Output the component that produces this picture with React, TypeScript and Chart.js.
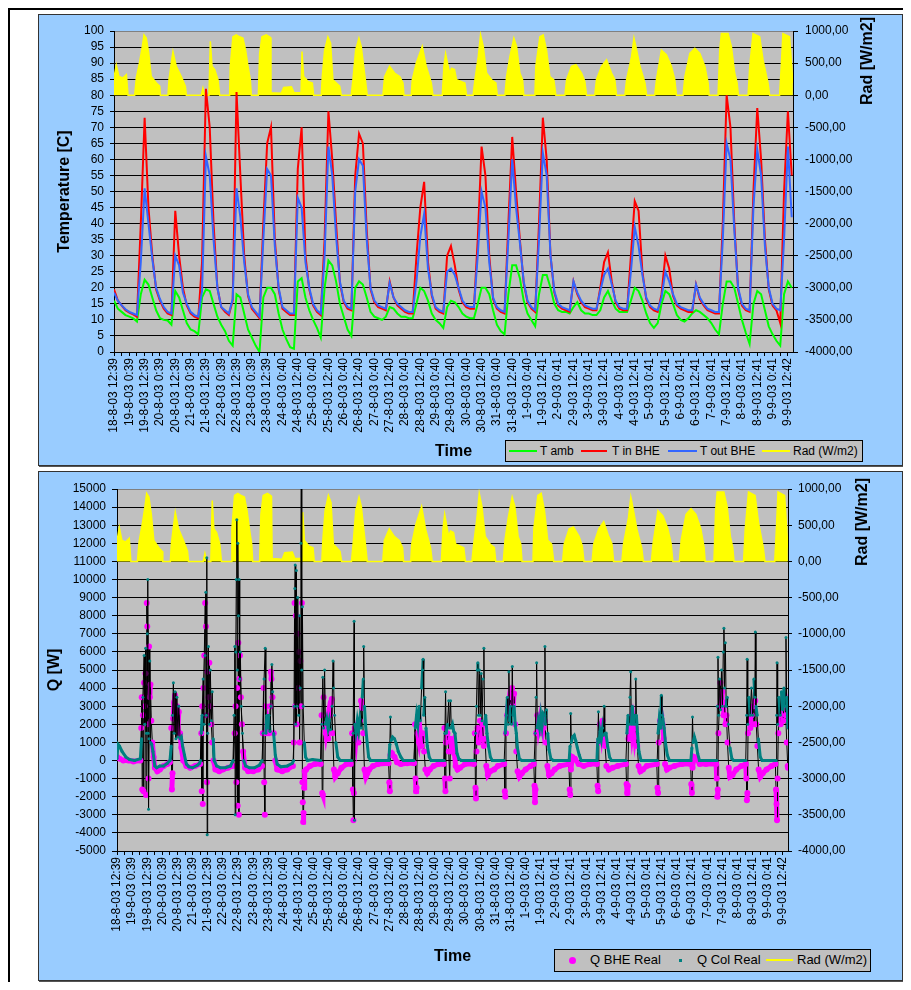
import React, { useEffect, useRef } from 'react';
import { Chart, registerables } from 'chart.js';

Chart.register(...registerables);

const FONT = "'Liberation Sans', Arial, Helvetica, sans-serif";

// x-axis category labels (one every 12 hours)
const xLabels = [
  '18-8-03 12:39', '19-8-03 0:39', '19-8-03 12:39', '20-8-03 0:39', '20-8-03 12:39',
  '21-8-03 0:39', '21-8-03 12:39', '22-8-03 0:39', '22-8-03 12:39', '23-8-03 0:39',
  '23-8-03 12:39', '24-8-03 0:40', '24-8-03 12:40', '25-8-03 0:40', '25-8-03 12:40',
  '26-8-03 0:40', '26-8-03 12:40', '27-8-03 0:40', '27-8-03 12:40', '28-8-03 0:40',
  '28-8-03 12:40', '29-8-03 0:40', '29-8-03 12:40', '30-8-03 0:40', '30-8-03 12:40',
  '31-8-03 0:40', '31-8-03 12:40', '1-9-03 0:40', '1-9-03 12:41', '2-9-03 0:41',
  '2-9-03 12:41', '3-9-03 0:41', '3-9-03 12:41', '4-9-03 0:41', '4-9-03 12:41',
  '5-9-03 0:41', '5-9-03 12:41', '6-9-03 0:41', '6-9-03 12:41', '7-9-03 0:41',
  '7-9-03 12:41', '8-9-03 0:41', '8-9-03 12:41', '9-9-03 0:41', '9-9-03 12:42',
];

const SAMPLE_STEP_H = 3; // temperature samples every 3 hours from 18-8 12:39
const X_MAX = 532;

// T amb [C]
const tAmb = [
  16, 13.5, 12.5, 11.5,
  11, 10.5, 9.5, 18, 22.5, 21, 17, 13,
  10.5, 10, 9.8, 8.5, 19, 17, 13, 9,
  7, 6.5, 5.5, 17, 19.5, 19, 15, 11,
  8.5, 6.5, 3.5, 2, 18, 17, 12, 7,
  4.5, 2, 0, 17, 20, 20, 18, 12,
  7, 4, 1.5, 1, 22, 23, 17, 13,
  10, 7.5, 4.5, 20, 28.5, 27, 22, 15,
  11, 7, 5, 20, 22, 21, 17, 12.5,
  11, 10.5, 10, 11, 14, 13.5, 12, 11,
  11, 10.5, 10.5, 15, 20, 19, 16, 12,
  10, 9, 7.5, 14, 16, 15.5, 14, 12,
  11, 10.5, 10.5, 15, 20, 20, 18, 13,
  8.5, 6.5, 5.5, 18, 27, 27, 23, 16,
  12, 10, 8, 18, 24, 24, 20, 15,
  13, 12.5, 12.5, 12, 14, 15.5, 13, 12,
  12, 11.5, 11.5, 13, 17, 19, 16, 13.5,
  12.5, 12.5, 12.5, 16, 20, 19, 16, 12,
  9, 7.5, 9, 15, 19, 18, 15, 11.5,
  10, 9.5, 10.5, 12, 13, 12.5, 11.5, 10.5,
  9, 7, 5.5, 15, 22, 22, 20, 15,
  10, 6, 2.5, 15, 19, 18, 13, 8,
  5.5, 3.5, 2, 18, 22, 20,
];

// T in BHE [C]
const tInBHE = [
  19.5, 16, 14.5, 13,
  12.3, 11.7, 11, 40, 73, 45, 30, 19.5,
  16, 13.5, 12, 11.5, 44, 30, 20, 14.5,
  12, 11, 10.5, 28, 82, 70, 40, 20,
  14, 12.5, 11.5, 16, 81, 55, 30, 17.5,
  13.5, 12, 10.5, 40, 65, 70, 35, 19.5,
  13.5, 12.5, 11.5, 11.5, 57, 70, 30, 19.5,
  14.5, 12.5, 11.5, 35, 75, 60, 40, 21.5,
  15.5, 13.5, 13, 55, 68, 65, 38, 19.5,
  15.5, 14, 13.5, 13, 22, 17, 14.5, 13.5,
  12.5, 12, 12, 30, 45, 53, 28, 17.5,
  13.5, 12.5, 12, 30, 33, 27, 19.5, 15.5,
  14, 13.5, 13.5, 35, 64, 55, 30, 16.5,
  13.5, 12.5, 12, 40, 67, 50, 35, 21.5,
  15.5, 13.5, 12.5, 40, 73, 60, 30, 18.5,
  14.5, 13.5, 13, 12.5, 22, 18, 15.5, 14,
  13.5, 13, 13, 20, 28, 31, 22, 15.5,
  13.5, 13, 13, 30, 47, 44, 25, 16.5,
  14, 13, 12.5, 18, 30, 26, 17.5, 14.5,
  13.5, 13, 12.5, 12.5, 21, 16.5, 14.5, 13,
  12.5, 12, 12, 40, 80, 70, 40, 19.5,
  14.5, 13, 12.5, 50, 76, 60, 35, 19.5,
  14.5, 13, 9, 50, 75, 55,
];

// T out BHE [C]
const tOutBHE = [
  18.5, 16, 14.5, 13.3,
  12.5, 12, 11.5, 28, 51, 40, 29, 20,
  16.5, 14, 12.5, 12, 30, 27, 18.5, 15,
  12.5, 11.5, 11, 19, 61, 55, 35, 20,
  14, 13, 12, 16.5, 51, 42, 28, 18,
  14, 12.5, 11, 35, 57, 55, 33, 20,
  14, 13, 12, 12, 48, 45, 28, 20,
  15, 13, 12, 30, 64, 55, 36, 22,
  16, 14, 13.5, 50, 60, 58, 35, 20,
  16, 14.5, 14, 13.5, 21.5, 17, 15, 14,
  13, 12.5, 12.5, 22, 36, 43, 26, 18,
  14, 13, 12.5, 25, 26, 24, 20, 16,
  14.5, 14, 14, 30, 50, 45, 28, 17,
  14, 13, 12.5, 35, 60, 45, 34, 22,
  16, 14, 13, 35, 62, 55, 30, 19,
  15, 14, 13.5, 13, 22, 18.5, 16, 14.5,
  14, 13.5, 13.5, 19, 24, 26, 21, 16,
  14, 13.5, 13.5, 25, 39, 33, 24, 17,
  14.5, 13.5, 13, 17, 25, 22, 18, 15,
  14, 13.5, 13, 13, 21, 17, 15, 13.5,
  13, 12.5, 12.5, 35, 65, 60, 38, 20,
  15, 13.5, 13, 45, 63, 55, 33, 20,
  15, 13.5, 13, 35, 64, 42,
];

// Rad (W/m2): [hours since 18-8 12:39, value]
const radSeries = [
  [0, 280], [1.8, 470], [3.9, 290], [7, 270], [9.7, 320], [11, 0], [16.2, 0],
  [17.5, 270], [20.1, 520], [22.2, 760], [23.5, 940], [25.3, 890], [27.2, 650], [29.2, 290], [33.2, 190], [35.8, 140], [36.3, 0], [42.3, 0],
  [43.1, 240], [44.9, 500], [46.2, 680], [48.8, 450], [52.7, 290], [55.9, 140], [56.7, 0], [68.4, 0], [69.7, 110], [71, 0], [74.4, 0],
  [75.5, 840], [76.8, 450], [78.9, 400], [81.5, 240], [82.8, 0], [90.6, 0],
  [91.1, 450], [93.2, 910], [95.8, 940], [98.4, 910], [101, 890], [103.1, 700], [105, 450], [106.8, 240], [107.6, 0], [113.1, 0],
  [114.1, 650], [115.9, 910], [119.3, 940], [121.9, 910], [122.5, 900], [123, 40], [131, 30], [133, 120], [139, 130], [141, 40], [146.6, 40],
  [147.3, 680], [148.6, 290], [152, 215], [155.4, 190], [156.4, 0], [162.4, 0],
  [163.2, 290], [165, 700], [167.6, 910], [169.7, 810], [171.5, 240], [174.2, 190], [176.8, 140], [178.1, 0], [185.9, 0],
  [187.2, 240], [189.3, 700], [191.9, 890], [193.7, 760], [195.6, 450], [197.1, 215], [198.4, 0], [210.7, 0],
  [212, 290], [215.9, 450], [219.8, 345], [223.8, 290], [226.4, 190], [227.2, 0], [232.9, 0],
  [233.7, 240], [236.8, 500], [241.5, 760], [244.6, 450], [248.6, 190], [249.9, 0], [257.2, 0],
  [258.5, 450], [259.8, 650], [262.9, 345], [264.5, 420], [266.8, 400], [268.4, 240], [274.9, 190], [276.2, 0], [281.4, 0],
  [282.8, 240], [285.4, 600], [287.2, 940], [289.3, 760], [291.9, 345], [295.8, 240], [299.2, 190], [300.3, 0], [306.3, 0],
  [307.6, 290], [310.2, 600], [313.3, 890], [315.4, 760], [318, 345], [320.1, 240], [321.1, 0], [329.8, 0],
  [330.5, 450], [333.7, 910], [336.3, 940], [338.9, 700], [341.5, 290], [344.6, 240], [346.2, 0], [353.3, 0],
  [354.6, 240], [358.5, 450], [361.9, 475], [366.3, 345], [368.9, 215], [370.2, 0], [376.7, 0],
  [378, 240], [382, 450], [385.9, 550], [389.8, 345], [392.4, 240], [393.7, 0], [400.3, 0],
  [401.6, 240], [405.5, 600], [407.4, 890], [409.5, 700], [412.1, 450], [416, 190], [417.3, 0], [423.7, 0],
  [425, 240], [428.9, 700], [432.8, 630], [436.7, 450], [439.4, 240], [440.7, 0], [445.9, 0],
  [447.3, 290], [451.2, 650], [455.1, 730], [459, 650], [462.9, 450], [465.5, 190], [466.3, 0], [473.3, 0],
  [474.6, 700], [475.9, 960], [481.1, 960], [483.7, 760], [486.3, 345], [488.2, 190], [489.2, 0], [496.8, 0],
  [498.1, 450], [500.7, 960], [505.9, 910], [508.5, 550], [512.4, 190], [513.7, 0], [521.5, 0],
  [522.8, 450], [524.1, 960], [529.3, 910], [531.9, 190],
];

// Q BHE Real [W]: [hours, value]
const qBheSeries = [
  [0, 200], [2, 100], [5, 0], [9, 0], [13, -50], [18.5, 0],
  [19.2, 1800], [19.6, 3500], [20, -1600], [20.6, 2500], [21, -1700], [21.4, 4300], [22, 3000], [22.5, 4800], [23, -1900], [23.6, 8700], [24, 7400], [24.5, 2000], [25, -1000], [25.4, 6300], [26, 3500], [26.5, 4200], [27.2, 2200], [28, 1000], [29, 200], [30, -400], [32, -600], [34, -500], [37, -300], [40, -200], [42, -100],
  [43, 1800], [43.5, -1600], [44, -700], [44.5, 2300], [45.2, 3200], [46, 3600], [46.7, 2500], [47.5, 3000], [48.3, 1800], [49, 2700], [50, 1500], [51, 700], [52.5, 0], [55, -300], [58, -400], [62, -300], [66, -200],
  [66.8, 1500], [67.2, -1700], [67.6, 3000], [68, -2400], [68.5, 4000], [69.2, 5800], [69.9, 8700], [70.5, 7400], [71, 2500], [71.3, -1200], [71.8, 4900], [72.5, 3500], [73.2, 5400], [74, 3000], [74.8, 2000], [75.5, 1000], [76.5, 0], [78, -500], [81, -600], [84, -500], [88, -400], [92, -300],
  [93.3, 1500], [94, 3000], [94.6, -1200], [95.2, 4000], [95.7, -2500], [96.2, 6500], [96.6, -3000], [97, 4500], [97.5, 5800], [98.2, 3500], [99, 2000], [100, 500], [101.5, -400], [104, -600], [108, -600], [112, -500], [115, -300],
  [115.6, 1500], [116.2, 4000], [116.7, -1200], [117.2, -3000], [117.8, 3000], [118.5, 1500], [119.5, 2000], [120.5, 1500], [121.5, 3000], [122, 4900], [122.5, 4500], [123.3, 3500], [124.3, 1500], [125.5, 0], [127, -500], [131, -600], [135, -500], [139.5, -300],
  [140.2, 1000], [140.8, 8700], [141.3, 3000], [141.8, 8000], [142.4, 2000], [143, 7000], [143.6, 4000], [144.2, 6000], [144.8, 1000], [145.4, 5500], [146, 3000], [146.6, 8700], [147, -1200], [147.3, -2300], [147.6, -3400], [147.9, -2900], [148.3, -1500], [148.8, -600], [150, -500], [153, -300], [157, -200], [161.5, -200],
  [162.2, 2500], [162.7, -1800], [163.2, -1900], [163.8, 3500], [164.5, 2000], [165.5, 1500], [166.5, 2000], [167.5, 1200], [168.5, 2500], [169.5, 3200], [170.3, 3400], [171, 1500], [172, -500], [173, -900], [175, -700], [178, -400], [182, -200], [185.5, -200],
  [186.4, 1500], [187, -1600], [187.4, -3300], [187.8, -1800], [188.5, 1800], [189.5, 1200], [190.5, 2000], [191.5, 1000], [192.5, 2200], [193.5, 3300], [194.3, 2900], [195.2, 1500], [196.2, -500], [197.3, -900], [198.5, -700], [200, -500], [203, -300], [207, -200], [215.3, -150],
  [215.9, -1200], [216.3, -1700], [216.8, 300], [218, 400], [220, 200], [222, -100], [225, -200], [230, -150], [235.5, -150],
  [236.3, 2000], [236.7, -1000], [237.1, -1700], [237.5, -1500], [238.2, 1500], [239.5, 1000], [240.5, 1500], [241.5, 800], [242.5, 1500], [243.5, 500], [244.5, -500], [246, -700], [248, -500], [251, -300], [255, -200], [259, -200],
  [259.6, 1800], [260, -1000], [260.4, -1700], [260.8, 1000], [262, 1500], [263, 500], [263.8, -1000], [264.5, 1200], [265.5, 800], [266.5, 1000], [267.5, 400], [268.5, -300], [270, -500], [272, -400], [276, -200], [283, -200],
  [283.7, 1500], [284.2, -1500], [284.6, -2100], [285, 500], [285.8, 1800], [286.8, 1000], [287.8, 2200], [288.8, 1200], [289.8, 2000], [290.8, 800], [291.8, 1200], [292.8, -300], [294, -800], [296, -600], [299, -500], [302, -300], [307, -200],
  [307.5, -1700], [307.9, -2000], [308.4, 1500], [309.3, 2500], [310.2, 3000], [311.2, 2500], [312.2, 3500], [313.2, 4000], [314, 3000], [314.8, 3700], [315.7, 2000], [316.6, 500], [317.6, -600], [319, -900], [321, -700], [324, -500], [328, -300], [330.5, -200],
  [331, -1400], [331.4, -2300], [331.8, -1600], [332.3, 1500], [333.2, 2500], [334.2, 1800], [335.2, 2200], [336.2, 1500], [337.2, 2500], [338.2, 1800], [339.2, 2200], [340.2, 1000], [341.2, -300], [342.5, -800], [344.5, -700], [347, -500], [351, -300], [358.3, -200],
  [358.9, -1600], [359.4, -1900], [359.9, -500], [361, 200], [363, 100], [366, -200], [370, -300], [375, -200], [380.5, -200],
  [381, -1400], [381.5, -1700], [382, 1000], [383, 2000], [384, 1500], [385, 2200], [386, 1200], [387, 800], [388, -300], [390, -500], [393, -400], [397, -300], [403.5, -200],
  [404, -1300], [404.5, -1800], [405, -1400], [405.5, 1200], [406.5, 2000], [407.5, 2300], [408.5, 1500], [409.5, 2000], [410.5, 1300], [411.5, 1800], [412.5, 800], [413.5, -300], [415, -600], [417, -500], [420, -300], [428, -200],
  [428.5, -1500], [429, -1800], [429.5, 1000], [430.5, 2200], [431.5, 2500], [432.5, 2000], [433.5, 1200], [434.5, -200], [436, -500], [438, -400], [442, -300], [448, -200], [454.8, -200],
  [455.3, -1300], [455.8, -1800], [456.3, -400], [457.5, 200], [459.5, 100], [462, -200], [467, -200], [475, -200],
  [475.5, -1000], [475.9, -2000], [476.3, -1600], [476.8, 1500], [477.6, 3000], [478.4, 4300], [479.2, 3000], [480, 3800], [480.8, 2500], [481.6, 3200], [482.4, 2000], [483.2, 2500], [484, 1000], [485, -400], [486, -900], [488, -800], [491, -500], [495, -300], [498.5, -200],
  [499, -1000], [499.4, -2200], [499.8, -1800], [500.3, 1500], [501.2, 2500], [502.2, 1800], [503.2, 2500], [504.2, 3000], [505.2, 2000], [506, 3300], [506.8, 2000], [507.7, 800], [508.7, -500], [510, -900], [512, -700], [515, -500], [519, -300], [522, -200],
  [522.5, -1600], [522.9, -2400], [523.3, -3300], [523.7, -1000], [524.3, 1500], [525.2, 2500], [526.2, 2000], [527.2, 3000], [528.2, 2200], [529.2, 3600], [530.2, 2500], [531, 1000], [531.8, -300], [532, -400],
];

// Q Col Real [W]: [hours, value]
const qColSeries = [
  [0, 100], [0.8, 900], [2, 800], [4, 500], [7, 200], [10, 50], [14, 0], [18.5, 100],
  [19.5, 1200], [20.5, 3500], [21.5, 5800], [22, 2000], [22.7, 6200], [23.3, 1500], [24, 7000], [24.4, 10000], [24.7, 1500], [25, -2700], [25.4, 1200], [26, 5500], [26.6, 1000], [27.5, 900], [28.5, 500], [30, -300], [31.5, -400], [34, -300], [37, -300], [40, -150], [42, 0],
  [43, 800], [44, 2500], [44.7, 4300], [45.3, 1500], [46, 3800], [46.7, 1200], [47.5, 3500], [48.3, 1300], [49, 3000], [50, 1200], [51, 1300], [52, 800], [53.5, 300], [55, -200], [57, -350], [60, -400], [64, -250], [65.5, -150], [66.2, 0],
  [66.8, 1500], [67.5, 2500], [68.3, 4500], [69, 2000], [69.7, 5800], [70.4, 9300], [70.8, 2500], [71.2, 11200], [71.5, -4100], [71.9, 1500], [72.5, 6300], [73.2, 2000], [74, 5000], [74.8, 2200], [75.5, 3800], [76.3, 1200], [77, 0], [79, -300], [82, -400], [86, -400], [90, -300], [92, 0],
  [92.8, 2500], [93.4, 6300], [93.7, -3000], [94.2, 6000], [94.6, 10000], [95, 13300], [95.4, 5000], [95.8, 12000], [96.3, 8000], [96.8, 10000], [97.3, 4500], [97.8, 6000], [98.5, 3000], [99.5, 1500], [100.5, 0], [102, -300], [105, -400], [109, -400], [113, -250], [115, 0],
  [115.8, 1500], [116.6, 4500], [117.5, 6200], [118, 1500], [118.8, 2500], [119.6, 1800], [120.5, 2500], [121.3, 1600], [122, 3000], [122.8, 5300], [123.4, 3800], [124.2, 1500], [125.5, 300], [127, -200], [130, -350], [135, -300], [139, -150], [140, 0],
  [140.5, 3000], [141, 9500], [141.3, 10800], [141.7, 2000], [142.2, 10500], [142.8, 3000], [143.3, 9000], [144, 2500], [144.7, 8000], [145.3, 4000], [145.8, 12000], [146.1, 15100], [146.5, 5000], [147, 8500], [147.6, 3000], [148.5, 1000], [149.5, 200], [151, 0], [155, 50], [161.5, 0],
  [162.3, 2000], [163.2, 4600], [163.8, 1800], [164.6, 5000], [165.3, 2000], [166.3, 2300], [167.3, 1800], [168.3, 2200], [169.3, 1700], [170.5, 3000], [171.3, 5500], [171.8, 4000], [172.5, 2500], [173.5, 1000], [175, 200], [177, 0], [186, 0],
  [187.2, 1500], [188, 7700], [188.3, -3300], [188.7, 2000], [189.5, 1600], [190.5, 2200], [191.5, 1700], [192.5, 2300], [193.5, 1800], [194.5, 3500], [195.3, 4500], [195.6, 6300], [196.2, 3000], [197, 2000], [198.3, 1000], [199.5, 200], [201, 0], [215.5, 0],
  [216.3, 900], [216.8, 2400], [217.3, 1100], [218.5, 1300], [220, 1200], [221.5, 900], [223, 500], [225, 200], [227, 0], [235.5, 0],
  [236.5, 1800], [237.5, 2500], [238.5, 2000], [239.5, 3000], [240.5, 2200], [241.5, 4000], [242.3, 5000], [242.7, 5600], [243.2, 2500], [244, 3500], [245, 1800], [246, 800], [247.5, 200], [249, 0], [259.5, 0],
  [260, 1500], [260.5, 3800], [261, 1500], [262, 2000], [263, 3300], [263.5, 1800], [264.5, 3300], [265, 1800], [266, 2000], [267, 1600], [268, 1500], [269.5, 400], [271, 100], [273, 0], [283.5, 0],
  [284.3, 1500], [285, 3000], [285.6, 5000], [286.1, 5400], [286.6, 2500], [287.3, 5000], [288, 2500], [288.7, 4800], [289.4, 2200], [290.2, 4500], [290.9, 6200], [291.4, 2000], [292.3, 2500], [293.3, 1500], [294.5, 800], [296, 200], [297.5, 0], [307, 0],
  [307.8, 1500], [308.7, 2500], [309.5, 3500], [310.2, 2000], [310.7, 4900], [311.3, 2200], [312, 3000], [312.8, 2000], [313.4, 5200], [314, 2500], [314.8, 3000], [315.7, 2000], [316.6, 1500], [317.5, 700], [319, 100], [321, 0], [330.8, 0],
  [331.6, 1500], [332.3, 3500], [332.7, 5400], [333.2, 1800], [334, 2200], [335, 1800], [336, 2500], [337, 1900], [338, 2600], [339, 2500], [339.3, 6300], [339.7, 2000], [340.5, 2800], [341.5, 1500], [342.5, 600], [344, 100], [346, 0], [358.5, 0],
  [359.2, 800], [359.7, 2600], [360.2, 1000], [361.2, 1300], [362.5, 1400], [363.7, 1100], [365, 700], [366.5, 300], [368, 0], [380.5, 0],
  [381.2, 1200], [381.7, 2700], [382.2, 1000], [383, 1600], [384, 1200], [385, 1800], [385.7, 1400], [386.2, 3000], [386.7, 1500], [387.7, 1500], [389, 800], [390.5, 200], [392, 0], [403.5, 0],
  [404.3, 1500], [405.2, 2500], [406, 2000], [406.7, 3500], [407.3, 4900], [407.8, 2000], [408.6, 3000], [409.4, 2000], [410.2, 2500], [410.8, 2000], [411.3, 4500], [411.8, 2500], [412.7, 1500], [413.8, 500], [415.5, 0], [428.3, 0],
  [429, 1500], [429.8, 2200], [430.6, 1800], [431.2, 2500], [431.6, 3600], [432, 2000], [432.8, 2300], [433.8, 1800], [434.8, 1000], [436.3, 300], [438, 0], [455, 0],
  [455.8, 700], [456.3, 2400], [456.8, 1000], [457.8, 1300], [459, 1000], [460.3, 400], [461.8, 0], [475.5, 0],
  [476, 3000], [476.5, 5700], [477, 2500], [477.8, 4500], [478.5, 2800], [479.3, 5000], [480, 3000], [480.7, 6000], [481.2, 7300], [481.7, 4000], [482.3, 6500], [483, 3000], [483.8, 3500], [484.7, 2000], [486, 700], [487.5, 100], [489, 0], [498.5, 0],
  [499.2, 2500], [499.6, 5600], [500.1, 2000], [501, 3500], [502, 2500], [503, 4000], [504, 2500], [505, 4500], [505.7, 3500], [506.1, 7100], [506.6, 3000], [507.5, 2500], [508.5, 1200], [510, 200], [511.5, 0], [522.6, 0],
  [523, 2500], [523.3, 5400], [523.8, 2000], [524.8, 3500], [525.8, 2500], [526.8, 3800], [527.8, 2800], [528.8, 4000], [529.8, 3000], [530.4, 6800], [530.9, 3500], [531.6, 2500], [532, 1800],
];

const GREEN = '#00FF00';
const RED = '#FF0000';
const BLUE = '#3366FF';
const YELLOW = '#FFFF00';
const MAGENTA = '#FF00FF';
const TEAL = '#008080';

const onGrid = (vals: number[]) => vals.map((y, i) => ({ x: i * SAMPLE_STEP_H, y }));
const fromPairs = (p: number[][]) => p.map(([x, y]) => ({ x, y }));

const plotBg = {
  id: 'plotBg',
  beforeDraw(chart: any) {
    const { ctx, chartArea } = chart;
    if (!chartArea) return;
    ctx.save();
    ctx.fillStyle = '#C0C0C0';
    ctx.fillRect(chartArea.left, chartArea.top, chartArea.right - chartArea.left, chartArea.bottom - chartArea.top);
    ctx.restore();
  },
};

function xScale(height: number, titlePadBottom: number) {
  return {
    type: 'linear',
    min: 0,
    max: X_MAX,
    afterBuildTicks: (s: any) => {
      const t: any[] = [];
      for (let v = 0; v <= (xLabels.length - 1) * 12; v += 6) t.push({ value: v });
      s.ticks = t;
    },
    afterFit: (s: any) => {
      s.height = height;
    },
    ticks: {
      autoSkip: false,
      minRotation: 90,
      maxRotation: 90,
      padding: 2,
      color: '#000',
      font: { family: FONT, size: 12 },
      callback: (v: number) => (v % 12 === 0 ? xLabels[v / 12] : ''),
    },
    grid: { drawOnChartArea: false, drawTicks: true, tickLength: 4, color: '#000' },
    border: { color: '#000', width: 1 },
    title: {
      display: true,
      text: 'Time',
      color: '#000',
      font: { family: FONT, size: 16, weight: 'bold' },
      padding: { top: 0, bottom: titlePadBottom },
    },
  };
}

function radScale(width: number, tickLen: number, pad: number) {
  return {
    type: 'linear',
    position: 'right',
    min: -4000,
    max: 1000,
    afterFit: (s: any) => {
      s.width = width;
    },
    ticks: {
      stepSize: 500,
      autoSkip: false,
      padding: pad,
      color: '#000',
      font: { family: FONT, size: 12 },
      callback: (v: number) => Number(v).toFixed(2).replace('.', ','),
    },
    grid: { drawOnChartArea: false, drawTicks: true, tickLength: tickLen, color: '#000' },
    border: { color: '#000' },
  };
}

const radDataset = (order: number) => ({
  label: 'Rad (W/m2)',
  data: fromPairs(radSeries),
  yAxisID: 'y2',
  borderColor: YELLOW,
  backgroundColor: YELLOW,
  borderWidth: 1.5,
  fill: { value: 0 },
  pointRadius: 0,
  order,
});

function topConfig(): any {
  return {
    type: 'line',
    data: {
      datasets: [
        { label: 'T out BHE', data: onGrid(tOutBHE), yAxisID: 'y', borderColor: BLUE, borderWidth: 2, pointRadius: 0, order: 1 },
        { label: 'T in BHE', data: onGrid(tInBHE), yAxisID: 'y', borderColor: RED, borderWidth: 2, pointRadius: 0, order: 2 },
        { label: 'T amb', data: onGrid(tAmb), yAxisID: 'y', borderColor: GREEN, borderWidth: 2, pointRadius: 0, order: 3 },
        radDataset(4),
      ],
    },
    options: {
      responsive: false,
      animation: false,
      layout: { padding: { top: 16, left: 0, right: 0, bottom: 0 } },
      plugins: { legend: { display: false }, tooltip: { enabled: false } },
      elements: { line: { tension: 0 } },
      scales: {
        x: xScale(113, 4),
        y: {
          type: 'linear',
          position: 'left',
          min: 0,
          max: 100,
          afterFit: (s: any) => {
            s.width = 75;
          },
          ticks: { stepSize: 5, autoSkip: false, padding: 6, color: '#000', font: { family: FONT, size: 12 }, callback: (v: number) => String(v) },
          grid: {
            color: (c: any) => (c.tick && c.tick.value === 100 ? '#808080' : '#000'),
            tickColor: '#000',
            tickLength: 4,
          },
          border: { color: '#000' },
          title: {
            display: true,
            text: 'Temperature [C]',
            color: '#000',
            font: { family: FONT, size: 16, weight: 'bold' },
            padding: { top: 16, bottom: 0 },
          },
        },
        y2: radScale(109, 5, 7),
      },
    },
    plugins: [plotBg],
  };
}

const jump = (lim: number) => (ctx: any) => Math.abs(ctx.p1.parsed.y - ctx.p0.parsed.y) > lim;
const colJump = jump(1200);
const bheJump = jump(900);

function bottomConfig(): any {
  return {
    type: 'line',
    data: {
      datasets: [
        {
          label: 'Q Col Real',
          data: fromPairs(qColSeries),
          yAxisID: 'y',
          borderColor: TEAL,
          borderWidth: 3,
          pointRadius: 1.5,
          pointBackgroundColor: TEAL,
          pointBorderWidth: 0,
          segment: {
            borderColor: (c: any) => (colJump(c) ? '#000' : TEAL),
            borderWidth: (c: any) => (colJump(c) ? 1 : 3),
          },
          order: 1,
        },
        {
          label: 'Q BHE Real',
          data: fromPairs(qBheSeries),
          yAxisID: 'y',
          borderColor: MAGENTA,
          borderWidth: 5,
          pointRadius: 3,
          pointBackgroundColor: MAGENTA,
          pointBorderWidth: 0,
          segment: {
            borderColor: (c: any) => (bheJump(c) ? '#000' : MAGENTA),
            borderWidth: (c: any) => (bheJump(c) ? 1 : 5),
          },
          order: 2,
        },
        radDataset(3),
      ],
    },
    options: {
      responsive: false,
      animation: false,
      layout: { padding: { top: 17, left: 0, right: 0, bottom: 0 } },
      plugins: { legend: { display: false }, tooltip: { enabled: false } },
      elements: { line: { tension: 0 } },
      scales: {
        x: xScale(129, 14),
        y: {
          type: 'linear',
          position: 'left',
          min: -5000,
          max: 15000,
          afterFit: (s: any) => {
            s.width = 78;
          },
          ticks: { stepSize: 1000, autoSkip: false, padding: 6, color: '#000', font: { family: FONT, size: 12 }, callback: (v: number) => String(v) },
          grid: {
            color: (c: any) => (c.tick && c.tick.value === 15000 ? '#808080' : '#000'),
            tickColor: '#000',
            tickLength: 5,
          },
          border: { color: '#000' },
          title: {
            display: true,
            text: 'Q [W]',
            color: '#000',
            font: { family: FONT, size: 16, weight: 'bold' },
            padding: { top: 6, bottom: 0 },
          },
        },
        y2: radScale(114, 4, 6),
      },
    },
    plugins: [plotBg],
  };
}

function ChartCanvas({ width, height, makeConfig }: { width: number; height: number; makeConfig: () => any }) {
  const ref = useRef<HTMLCanvasElement | null>(null);
  useEffect(() => {
    if (!ref.current) return;
    const chart = new Chart(ref.current, makeConfig());
    return () => chart.destroy();
  }, []);
  return (
    <canvas
      ref={ref}
      width={width}
      height={height}
      style={{ position: 'absolute', left: 0, top: 0, width, height, display: 'block' }}
    />
  );
}

const textStyle: React.CSSProperties = {
  position: 'absolute',
  fontFamily: FONT,
  color: '#000',
  whiteSpace: 'nowrap',
};

function RotTitle({ x, y, text }: { x: number; y: number; text: string }) {
  return (
    <div
      style={{
        ...textStyle,
        left: x,
        top: y,
        fontSize: 16,
        fontWeight: 'bold',
        lineHeight: '18px',
        transform: 'translate(-50%, -50%) rotate(-90deg)',
      }}
    >
      {text}
    </div>
  );
}

function LineSwatch({ left, width, color }: { left: number; width: number; color: string }) {
  return <div style={{ position: 'absolute', left, top: 9, width, height: 2, background: color }} />;
}

function LegendText({ left, text, size }: { left: number; text: string; size: number }) {
  return <div style={{ ...textStyle, left, top: 0, fontSize: size, lineHeight: '20px' }}>{text}</div>;
}

const panelStyle = (top: number, height: number): React.CSSProperties => ({
  position: 'absolute',
  left: 30,
  top,
  width: 863,
  height,
  background: '#99CCFF',
  border: '1px solid #333',
  boxShadow: '1px 1px 0 #555',
});

export default function App() {
  return (
    <div style={{ position: 'relative', width: 895, height: 974 }}>
      <div
        style={{
          position: 'absolute',
          left: 0,
          top: 0,
          width: 903,
          height: 974,
          borderTop: '2px solid #000',
          borderLeft: '2px solid #000',
          boxSizing: 'border-box',
        }}
      />
      {/* Temperature chart */}
      <div style={panelStyle(6, 450)}>
        <ChartCanvas width={863} height={450} makeConfig={topConfig} />
        <RotTitle x={828} y={46} text="Rad [W/m2]" />
        <div
          style={{
            position: 'absolute',
            left: 466,
            top: 425,
            width: 358,
            height: 22,
            background: '#C0C0C0',
            border: '1px solid #000',
            boxSizing: 'border-box',
          }}
        >
          <LineSwatch left={3} width={28} color={GREEN} />
          <LegendText left={34} text="T amb" size={12} />
          <LineSwatch left={75} width={26} color={RED} />
          <LegendText left={106} text="T in BHE" size={12} />
          <LineSwatch left={162} width={29} color={BLUE} />
          <LegendText left={194} text="T out BHE" size={12} />
          <LineSwatch left={256} width={28} color={YELLOW} />
          <LegendText left={287} text="Rad (W/m2)" size={12} />
        </div>
      </div>
      {/* Heat flow chart */}
      <div style={panelStyle(463, 508)}>
        <ChartCanvas width={863} height={508} makeConfig={bottomConfig} />
        <RotTitle x={823} y={50} text="Rad [W/m2]" />
        <div
          style={{
            position: 'absolute',
            left: 515,
            top: 477,
            width: 317,
            height: 23,
            background: '#C0C0C0',
            border: '1px solid #000',
            boxSizing: 'border-box',
          }}
        >
          <div style={{ position: 'absolute', left: 14, top: 7, width: 7, height: 7, borderRadius: '50%', background: MAGENTA }} />
          <LegendText left={35} text="Q BHE Real" size={13} />
          <div style={{ position: 'absolute', left: 124, top: 9, width: 3, height: 3, background: TEAL }} />
          <LegendText left={142} text="Q Col Real" size={13} />
          <LineSwatch left={211} width={27} color={YELLOW} />
          <LegendText left={242} text="Rad (W/m2)" size={13} />
        </div>
      </div>
    </div>
  );
}
